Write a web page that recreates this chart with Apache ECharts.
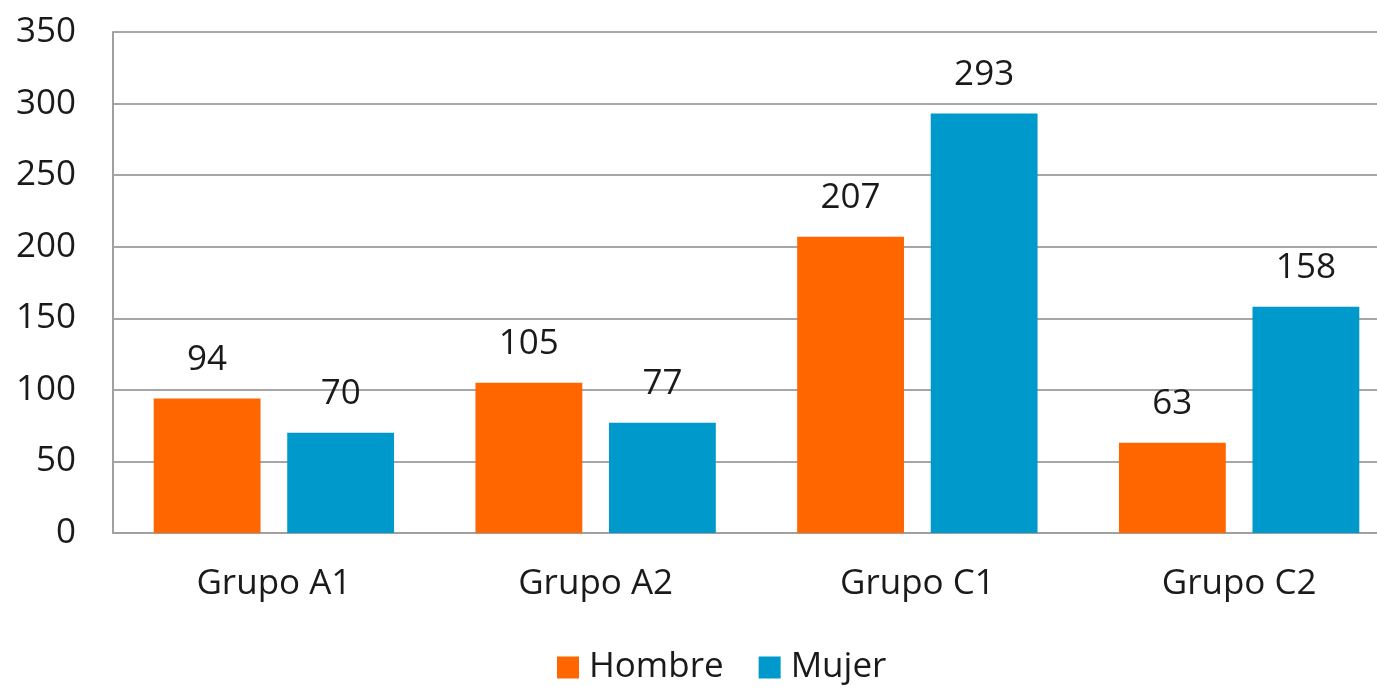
<!DOCTYPE html>
<html>
<head>
<meta charset="utf-8">
<script src="https://cdn.jsdelivr.net/npm/echarts@6/dist/echarts.min.js"></script>
<style>
html,body{margin:0;padding:0;background:#fff;}
#chart{width:1377px;height:690px;}
</style>
</head>
<body>
<div id="chart"></div>
<script>
const categories = ["Grupo A1", "Grupo A2", "Grupo C1", "Grupo C2"];
const hombre = [94, 105, 207, 63];
const mujer = [70, 77, 293, 158];
const seriesNames = ["Hombre", "Mujer"];

const font = "'Open Sans', 'Noto Sans', sans-serif";
const chart = echarts.init(document.getElementById('chart'));
chart.setOption({
  animation: false,
  backgroundColor: '#ffffff',
  textStyle: {fontFamily: font},
  legend: {
    bottom: 0,
    left: 552,
    itemWidth: 22,
    itemHeight: 22,
    itemGap: 35,
    icon: 'rect',
    textStyle: {fontSize: 35, color: '#1a1a1a', fontFamily: font, padding: [0, 0, 0, 5]},
    data: seriesNames
  },
  grid: {left: 113, width: 1287, top: 32, bottom: 157, containLabel: false, outerBoundsMode: 'none'},
  xAxis: {
    type: 'category',
    data: categories,
    axisLine: {lineStyle: {color: '#a0a0a0', width: 2}},
    axisTick: {show: false},
    axisLabel: {fontSize: 35, color: '#1a1a1a', margin: 34, fontFamily: font}
  },
  yAxis: {
    type: 'value',
    min: 0, max: 350, interval: 50,
    axisLine: {show: true, lineStyle: {color: '#a0a0a0', width: 2}},
    axisTick: {show: false},
    splitLine: {lineStyle: {color: '#a6a6a6', width: 2}},
    axisLabel: {fontSize: 35, color: '#1a1a1a', margin: 37, fontFamily: font}
  },
  series: [
    {
      name: seriesNames[0], type: 'bar', data: hombre,
      barWidth: '33.2%', barGap: '25%',
      itemStyle: {color: '#ff6600'},
      label: {show: true, position: 'top', distance: 21, fontSize: 35, color: '#1a1a1a', fontFamily: font}
    },
    {
      name: seriesNames[1], type: 'bar', data: mujer,
      barWidth: '33.2%', barGap: '25%',
      itemStyle: {color: '#0099cc'},
      label: {show: true, position: 'top', distance: 21, fontSize: 35, color: '#1a1a1a', fontFamily: font}
    }
  ]
});
</script>
</body>
</html>
